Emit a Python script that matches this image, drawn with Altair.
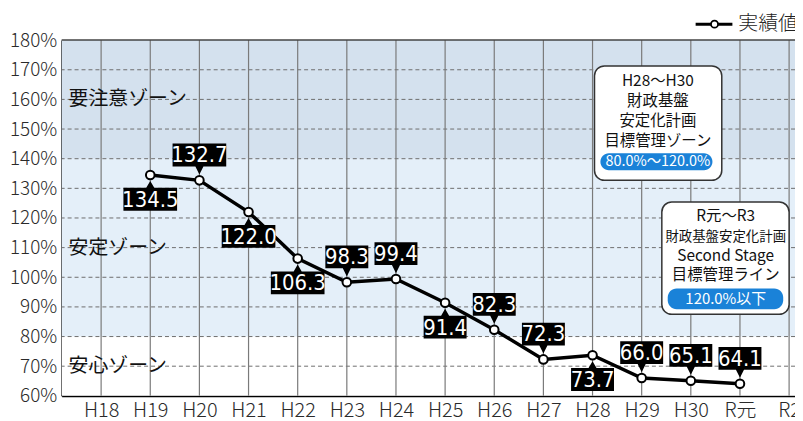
import altair as alt
import pandas as pd

# ---------------- data ----------------
categories = ["H18", "H19", "H20", "H21", "H22", "H23", "H24", "H25",
              "H26", "H27", "H28", "H29", "H30", "R元", "R2"]
years = ["H19", "H20", "H21", "H22", "H23", "H24", "H25",
         "H26", "H27", "H28", "H29", "H30", "R元"]
values = [134.5, 132.7, 122.0, 106.3, 98.3, 99.4, 91.4,
          82.3, 72.3, 73.7, 66.0, 65.1, 64.1]
label_side = ["below", "above", "below", "below", "above", "above", "below",
              "above", "above", "below", "above", "above", "above"]
y_ticks = [60, 70, 80, 90, 100, 110, 120, 130, 140, 150, 160, 170, 180]
band_lo = [60, 80, 140]
band_hi = [80, 140, 180]
band_names = ["安心", "安定", "要注意"]
zone_labels = ["要注意ゾーン", "安定ゾーン", "安心ゾーン"]
zone_label_at = [160, 110, 70]
box1_lines = ["H28〜H30", "財政基盤", "安定化計画", "目標管理ゾーン"]
box1_pill = "80.0%〜120.0%"
box2_lines = ["R元〜R3", "財政基盤安定化計画", "Second Stage", "目標管理ライン"]
box2_pill = "120.0%以下"
legend_label = "実績値"

# ---------------- layout / style ----------------
W, H = 738, 358
JP = "Noto Sans CJK JP"
NUM = "Liberation Sans Narrow, DejaVu Sans Condensed, sans-serif"
band_colors = ["#ffffff", "#e4eff9", "#d4e1ee"]

xs = alt.Scale(domain=[-0.803, 14.12], nice=False, zero=False)
ys = alt.Scale(domain=[60, 180], nice=False, zero=False)

label_expr = "[" + ",".join(f"'{c}'" for c in categories) + "][datum.value]"
x_axis = alt.Axis(values=list(range(len(categories))), labelExpr=label_expr,
                  grid=False, ticks=False, domainColor="black", domainWidth=2,
                  labelFont=JP, labelFontSize=20, labelColor="#2a2a2a",
                  labelPadding=5, labelFontWeight=300, title=None)
y_axis = alt.Axis(values=y_ticks, labelExpr="datum.value + '%'",
                  grid=False, ticks=False, domainColor="black", domainWidth=2,
                  labelFont=JP, labelFontSize=19, labelColor="#2a2a2a",
                  labelPadding=5, labelFontWeight=300, title=None)


def X(f):
    return alt.X(f, scale=xs, axis=x_axis, title=None)


def Y(f):
    return alt.Y(f, scale=ys, axis=y_axis, title=None)


df = pd.DataFrame({
    "idx": [categories.index(y) for y in years],
    "val": values,
    "side": label_side,
    "txt": [f"{v:.1f}" for v in values],
})
df["kind"] = df["side"] + df["txt"].str.len().astype(str)


# label box shapes (unit = 27px)
def box_path(side, w):
    if side == "above":
        return f"M{-w},-1.37 H{w} V-0.52 H0.15 L0,-0.22 L-0.15,-0.52 H{-w} Z"
    return f"M{-w},0.48 H-0.15 L0,0.22 L0.15,0.48 H{w} V1.33 H{-w} Z"


kinds = ["above5", "above4", "below5", "below4"]
paths = [box_path("above", 1.0), box_path("above", 0.8),
         box_path("below", 1.0), box_path("below", 0.8)]

bands = pd.DataFrame({"lo": band_lo, "hi": band_hi, "name": band_names})
grid_x = pd.DataFrame({"idx": list(range(len(categories)))})
grid_y = pd.DataFrame({"v": y_ticks[1:-1]})
top = pd.DataFrame({"v": [y_ticks[-1]]})
zones = pd.DataFrame({"t": zone_labels, "v": zone_label_at})

band_layer = alt.Chart(bands).mark_rect().encode(
    x=alt.value(0), x2=alt.value(W),
    y=Y("lo:Q"), y2="hi:Q",
    color=alt.Color("name:N", scale=alt.Scale(domain=band_names, range=band_colors), legend=None),
)

vgrid = alt.Chart(grid_x).mark_rule(color="#7a7a7a", strokeWidth=1.2).encode(x=X("idx:Q"))
hgrid = alt.Chart(grid_y).mark_rule(color="#6e6e6e", strokeWidth=1, strokeDash=[4, 3]).encode(y=Y("v:Q"))
topline = alt.Chart(top).mark_rule(color="#444444", strokeWidth=1.5).encode(y=Y("v:Q"))

zone_text = alt.Chart(zones).mark_text(
    align="left", baseline="middle", font=JP, fontSize=20, color="#111111"
).encode(x=alt.value(7), y=Y("v:Q"), text="t:N")

line = alt.Chart(df).mark_line(color="black", strokeWidth=3.5).encode(x=X("idx:Q"), y=Y("val:Q"))
pts = alt.Chart(df).mark_point(filled=True, fill="white", stroke="black",
                               strokeWidth=2, size=75, opacity=1).encode(x=X("idx:Q"), y=Y("val:Q"))

boxes = alt.Chart(df).mark_point(filled=True, color="black", size=2916, opacity=1).encode(
    x=X("idx:Q"), y=Y("val:Q"),
    shape=alt.Shape("kind:N", scale=alt.Scale(domain=kinds, range=paths), legend=None),
)
txt_above = alt.Chart(df).transform_filter(alt.datum.side == "above").mark_text(
    color="white", font=NUM, fontSize=22, baseline="middle", dy=-25
).encode(x=X("idx:Q"), y=Y("val:Q"), text="txt:N")
txt_below = alt.Chart(df).transform_filter(alt.datum.side == "below").mark_text(
    color="white", font=NUM, fontSize=22, baseline="middle", dy=25
).encode(x=X("idx:Q"), y=Y("val:Q"), text="txt:N")

# annotation boxes (data coordinates)
ann_boxes = pd.DataFrame({
    "x": [10.04, 11.41], "x2": [12.63, 14.0],
    "y": [132.7, 87.5], "y2": [171.3, 125.4],
})
ann_pills = pd.DataFrame({
    "x": [10.16, 11.53], "x2": [12.44, 13.88],
    "y": [136.1, 89.2], "y2": [141.8, 96.2],
})
ann_text = pd.DataFrame({
    "t": box1_lines + [box1_pill] + box2_lines + [box2_pill],
    "x": [11.33] * 5 + [12.71] * 5,
    "y": [166.3, 159.6, 152.8, 145.8, 138.9, 120.7, 113.6, 107.3, 100.6, 92.7],
    "fs": [15.5, 15.5, 15.5, 15.5, 14.5, 15.5, 13.5, 15.5, 15.5, 15],
    "col": ["#111111"] * 4 + ["#ffffff"] + ["#111111"] * 4 + ["#ffffff"],
})

box_layer = alt.Chart(ann_boxes).mark_rect(
    fill="white", stroke="#333333", strokeWidth=1.5, cornerRadius=10
).encode(x=X("x:Q"), x2="x2:Q", y=Y("y:Q"), y2="y2:Q")
pill_layer = alt.Chart(ann_pills).mark_rect(fill="#1a82d8", cornerRadius=9).encode(
    x=X("x:Q"), x2="x2:Q", y=Y("y:Q"), y2="y2:Q")
ann_text_layer = alt.Chart(ann_text).mark_text(font=JP, baseline="middle").encode(
    x=X("x:Q"), y=Y("y:Q"),
    text="t:N", size=alt.Size("fs:Q", scale=None), color=alt.Color("col:N", scale=None),
)

# legend (top-right, above plot)
leg = pd.DataFrame({"t": [legend_label]})
leg_line = alt.Chart(leg).mark_rule(color="black", strokeWidth=3).encode(
    x=alt.value(638), x2=alt.value(675), y=alt.value(-16)
)
leg_pt = alt.Chart(leg).mark_point(filled=True, fill="white", stroke="black",
                                   strokeWidth=1.8, size=50, opacity=1).encode(
    x=alt.value(657), y=alt.value(-16)
)
leg_txt = alt.Chart(leg).mark_text(align="left", baseline="middle", font=JP,
                                   fontSize=20, color="#222222", fontWeight=300).encode(
    x=alt.value(681), y=alt.value(-16), text="t:N"
)

chart = alt.layer(
    band_layer, hgrid, vgrid, topline, zone_text,
    box_layer, pill_layer, ann_text_layer,
    line, pts, boxes, txt_above, txt_below,
    leg_line, leg_pt, leg_txt,
).properties(
    width=W, height=H,
    autosize=alt.AutoSizeParams(type="none"),
    padding={"left": 54, "top": 31, "right": 0, "bottom": 24},
).configure_view(stroke=None).configure(background="white")

chart.save("out.html", embed_options={"renderer": "svg", "actions": False})
